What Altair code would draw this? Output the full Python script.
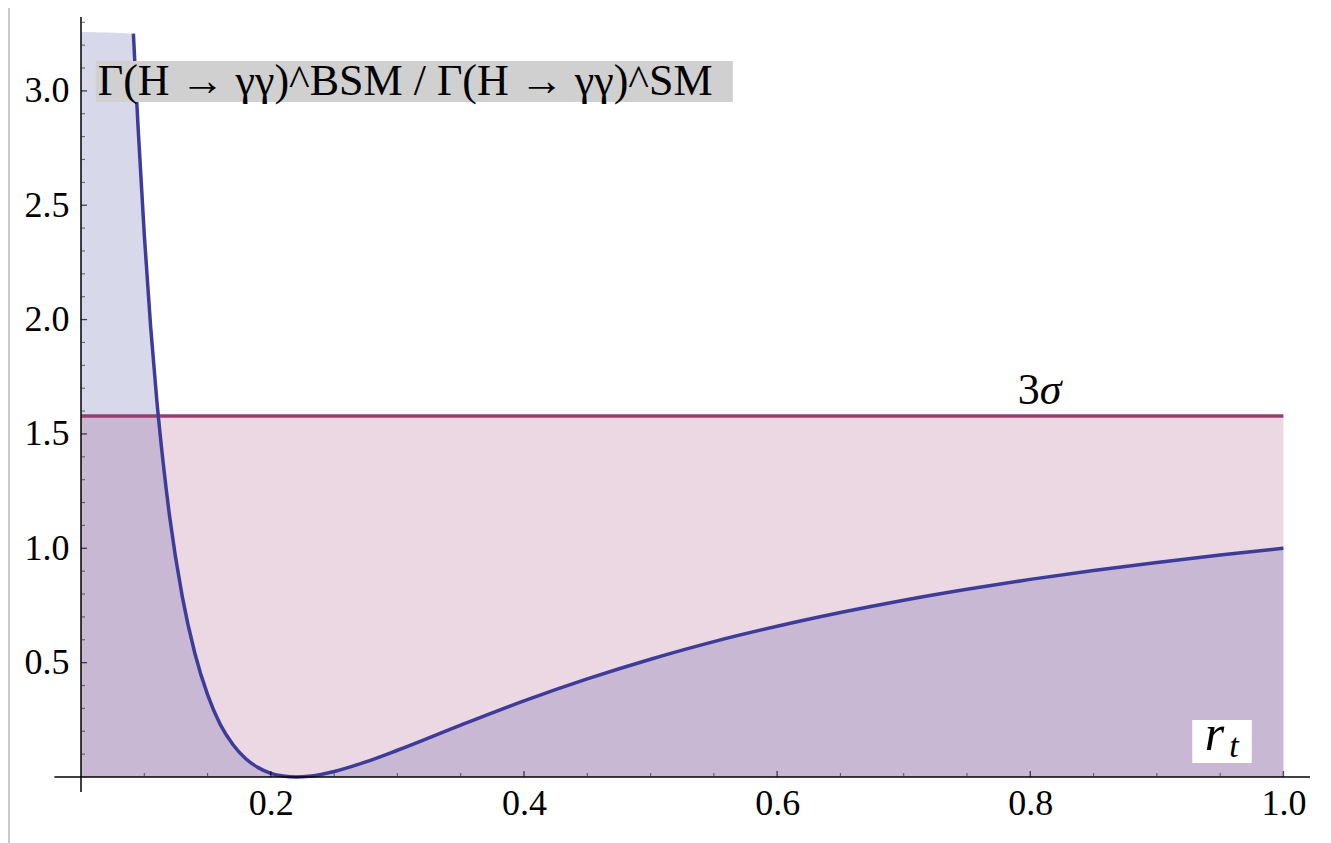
import altair as alt
import pandas as pd

# ---- data ----
r_vals = [0.0914, 0.095, 0.10, 0.105, 0.11, 0.115, 0.12, 0.13, 0.14, 0.15,
          0.16, 0.17, 0.18, 0.19, 0.20, 0.21, 0.22, 0.23, 0.25, 0.275,
          0.30, 0.35, 0.40, 0.45, 0.50, 0.55, 0.60, 0.65, 0.70, 0.75,
          0.80, 0.85, 0.90, 0.95, 1.0]
ratio_vals = [3.25, 2.85, 2.37, 1.97, 1.64, 1.37, 1.14, 0.79, 0.54, 0.36,
              0.23, 0.142, 0.081, 0.041, 0.016, 0.004, 0.0, 0.003, 0.024, 0.066,
              0.117, 0.227, 0.333, 0.429, 0.515, 0.592, 0.659, 0.719, 0.773, 0.821,
              0.864, 0.903, 0.938, 0.971, 1.0]

sigma3_level = 1.578
r_start, r_end = 0.05, 1.0
plot_top = 3.257           # clipping top of the plot range

x_axis_range = [0.029, 1.021]
y_axis_range = [-0.066, 3.323]

x_major = [0.2, 0.4, 0.6, 0.8, 1.0]
x_minor = [0.1, 0.15, 0.25, 0.3, 0.35, 0.45, 0.5, 0.55, 0.65, 0.7, 0.75,
           0.85, 0.9, 0.95]
y_major = [0.5, 1.0, 1.5, 2.0, 2.5, 3.0]
y_minor = [0.1, 0.2, 0.3, 0.4, 0.6, 0.7, 0.8, 0.9, 1.1, 1.2, 1.3, 1.4, 1.6,
           1.7, 1.8, 1.9, 2.1, 2.2, 2.3, 2.4, 2.6, 2.7, 2.8, 2.9, 3.1, 3.2, 3.3]

title_text = "Γ(H → γγ)^BSM / Γ(H → γγ)^SM"
title_pos = (0.0632, 3.039)
title_box = (0.0617, 0.565, 2.951, 3.131)
sigma_pos = (0.8075, 1.63)
rt_box = (0.928, 0.975, 0.061, 0.249)
r_pos = (0.9455, 0.118)
t_pos = (0.961, 0.088)

BLUE = "#3D3D99"
PINK = "#993D71"
FONT = "Liberation Serif"

# ---- tables ----
curve = pd.DataFrame({"r": r_vals, "v": ratio_vals})
blue_fill = pd.DataFrame({"r": [r_start] + r_vals, "v": [plot_top] + ratio_vals})
sigma = pd.DataFrame({"r": [r_start, r_end], "v": [sigma3_level, sigma3_level]})

xs = alt.Scale(domain=[r_start, x_axis_range[1]], nice=False, zero=False)
ys = alt.Scale(domain=[0, y_axis_range[1]], nice=False, zero=False)
xaxis = alt.Axis(values=x_major, format=".1f", domain=False, ticks=False, grid=False,
                 labelFont=FONT, labelFontSize=36, labelColor="black", labelPadding=9,
                 title=None)
yaxis = alt.Axis(values=y_major, format=".1f", domain=False, ticks=False, grid=False,
                 labelFont=FONT, labelFontSize=36, labelColor="black", labelPadding=12,
                 title=None)


def X(field):
    return alt.X(field, type="quantitative", scale=xs, axis=xaxis, title=None)


def Y(field):
    return alt.Y(field, type="quantitative", scale=ys, axis=yaxis, title=None)


pink_area = alt.Chart(sigma).mark_area(color=PINK, opacity=0.2).encode(x=X("r"), y=Y("v"))
blue_area = alt.Chart(blue_fill).mark_area(color=BLUE, opacity=0.2, interpolate="monotone").encode(
    x=X("r"), y=Y("v"))
sigma_line = alt.Chart(sigma).mark_line(color=PINK, strokeWidth=3.5).encode(x=X("r"), y=Y("v"))
curve_line = alt.Chart(curve).mark_line(color=BLUE, strokeWidth=3.5, interpolate="monotone").encode(
    x=X("r"), y=Y("v"))

xaxis_df = pd.DataFrame({"x1": [x_axis_range[0]], "x2": [x_axis_range[1]], "y": [0.0]})
yaxis_df = pd.DataFrame({"x": [r_start], "y1": [y_axis_range[0]], "y2": [y_axis_range[1]]})
x_axis_line = alt.Chart(xaxis_df).mark_rule(color="black", strokeWidth=1.5).encode(
    x=X("x1"), x2="x2", y=Y("y"))
y_axis_line = alt.Chart(yaxis_df).mark_rule(color="black", strokeWidth=1.5).encode(
    x=X("x"), y=Y("y1"), y2="y2")

xmaj = pd.DataFrame({"x": x_major, "y": [0.0] * len(x_major)})
xmin = pd.DataFrame({"x": x_minor, "y": [0.0] * len(x_minor)})
ymaj = pd.DataFrame({"x": [r_start] * len(y_major), "y": y_major})
ymin = pd.DataFrame({"x": [r_start] * len(y_minor), "y": y_minor})

xmaj_t = alt.Chart(xmaj).mark_tick(orient="vertical", size=6, thickness=1.3, yOffset=-3,
                                   color="black").encode(x=X("x"), y=Y("y"))
xmin_t = alt.Chart(xmin).mark_tick(orient="vertical", size=4, thickness=1.1, yOffset=-2,
                                   color="#333333").encode(x=X("x"), y=Y("y"))
ymaj_t = alt.Chart(ymaj).mark_tick(orient="horizontal", size=6, thickness=1.3, xOffset=3,
                                   color="black").encode(x=X("x"), y=Y("y"))
ymin_t = alt.Chart(ymin).mark_tick(orient="horizontal", size=4, thickness=1.1, xOffset=2,
                                   color="#333333").encode(x=X("x"), y=Y("y"))

tbox = pd.DataFrame({"x1": [title_box[0]], "x2": [title_box[1]], "y1": [title_box[2]], "y2": [title_box[3]]})
title_rect = alt.Chart(tbox).mark_rect(color="#D0D0D0").encode(
    x=X("x1"), x2="x2", y=Y("y1"), y2="y2")
title_df = pd.DataFrame({"x": [title_pos[0]], "y": [title_pos[1]], "t": [title_text]})
title_mark = alt.Chart(title_df).mark_text(font=FONT, fontSize=44, align="left", baseline="middle",
                                           color="black").encode(x=X("x"), y=Y("y"), text="t")

sig_df = pd.DataFrame({"x": [sigma_pos[0]], "y": [sigma_pos[1]], "a": ["3"], "b": ["σ"]})
sig3_mark = alt.Chart(sig_df).mark_text(font=FONT, fontSize=44, align="right", baseline="alphabetic",
                                        color="black").encode(x=X("x"), y=Y("y"), text="a")
sigs_mark = alt.Chart(sig_df).mark_text(font=FONT, fontSize=44, fontStyle="italic", align="left",
                                        baseline="alphabetic", color="black").encode(
    x=X("x"), y=Y("y"), text="b")

rbox = pd.DataFrame({"x1": [rt_box[0]], "x2": [rt_box[1]], "y1": [rt_box[2]], "y2": [rt_box[3]]})
r_rect = alt.Chart(rbox).mark_rect(color="white").encode(x=X("x1"), x2="x2", y=Y("y1"), y2="y2")
r_df = pd.DataFrame({"x": [r_pos[0]], "y": [r_pos[1]], "t": ["r"]})
r_mark = alt.Chart(r_df).mark_text(font=FONT, fontSize=50, fontStyle="italic", align="center",
                                   baseline="alphabetic", color="black").encode(x=X("x"), y=Y("y"), text="t")
t_df = pd.DataFrame({"x": [t_pos[0]], "y": [t_pos[1]], "t": ["t"]})
t_mark = alt.Chart(t_df).mark_text(font=FONT, fontSize=34, fontStyle="italic", align="center",
                                   baseline="alphabetic", color="black").encode(x=X("x"), y=Y("y"), text="t")

border = alt.Chart(xaxis_df).mark_rule(color="#B8B8B8", strokeWidth=1.5).encode(
    x=alt.value(-72), y=alt.value(-9), y2=alt.value(826))

chart = alt.layer(
    pink_area, blue_area, sigma_line, curve_line,
    x_axis_line, y_axis_line, xmaj_t, xmin_t, ymaj_t, ymin_t,
    title_rect, title_mark, sig3_mark, sigs_mark, r_rect, r_mark, t_mark, border,
).properties(
    width=1229, height=760,
    padding={"left": 73, "top": 9, "right": 13, "bottom": 66},
    autosize="none",
    background="white",
).configure_view(stroke=None)

chart.save("out.html", embed_options={"renderer": "svg", "actions": False})
